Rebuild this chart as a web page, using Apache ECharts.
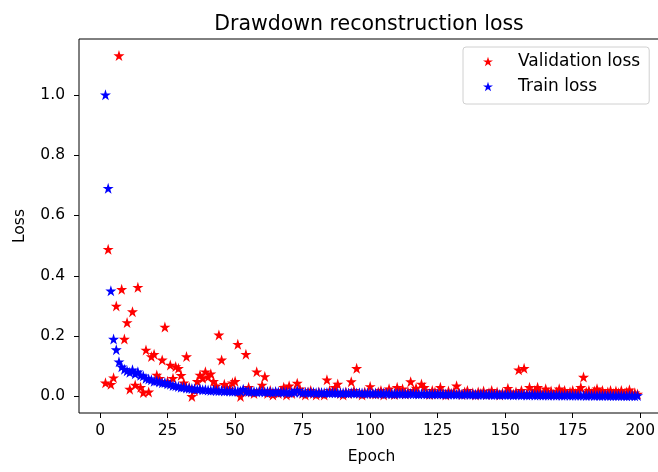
<!DOCTYPE html>
<html>
<head>
<meta charset="utf-8">
<script src="https://cdn.jsdelivr.net/npm/echarts@6/dist/echarts.min.js"></script>
<style>
  html, body { margin: 0; padding: 0; background: #fff; }
  #chart { width: 658px; height: 472px; }
</style>
</head>
<body>
<div id="chart"></div>
<script>
// epochs 2..199
const epochs = []
for (let e = 2; e <= 199; e++) epochs.push(e)

const validationLoss = [
  0.045, 0.488, 0.04, 0.062, 0.30, 1.13, 0.355, 0.19, 0.245, 0.024,
  0.281, 0.038, 0.362, 0.03, 0.013, 0.154, 0.015, 0.132, 0.14, 0.071,
  0.06, 0.121, 0.23, 0.05, 0.104, 0.06, 0.099, 0.093, 0.07, 0.045,
  0.132, 0.03, 0.0, 0.02, 0.05, 0.071, 0.06, 0.082, 0.065, 0.075,
  0.05, 0.035, 0.204, 0.121, 0.04, 0.03, 0.025, 0.045, 0.05, 0.173,
  0.0, 0.02, 0.14, 0.03, 0.015, 0.01, 0.082, 0.02, 0.038, 0.066,
  0.01, 0.02, 0.005, 0.015, 0.01, 0.02, 0.03, 0.005, 0.035, 0.01,
  0.02, 0.044, 0.025, 0.01, 0.005, 0.015, 0.02, 0.01, 0.005, 0.015,
  0.01, 0.005, 0.055, 0.02, 0.015, 0.03, 0.041, 0.01, 0.005, 0.015,
  0.01, 0.049, 0.02, 0.093, 0.01, 0.005, 0.015, 0.01, 0.033, 0.01,
  0.008, 0.015, 0.02, 0.005, 0.012, 0.025, 0.01, 0.006, 0.03, 0.012,
  0.025, 0.008, 0.015, 0.049, 0.02, 0.028, 0.01, 0.041, 0.03, 0.012,
  0.006, 0.02, 0.015, 0.008, 0.03, 0.012, 0.005, 0.018, 0.01, 0.015,
  0.035, 0.01, 0.006, 0.015, 0.02, 0.008, 0.012, 0.005, 0.015, 0.01,
  0.018, 0.006, 0.012, 0.02, 0.008, 0.015, 0.005, 0.012, 0.01, 0.027,
  0.012, 0.008, 0.015, 0.088, 0.02, 0.093, 0.01, 0.03, 0.012, 0.02,
  0.03, 0.015, 0.008, 0.025, 0.012, 0.018, 0.006, 0.015, 0.025, 0.01,
  0.02, 0.008, 0.015, 0.02, 0.01, 0.018, 0.03, 0.064, 0.015, 0.02,
  0.01, 0.018, 0.025, 0.012, 0.02, 0.008, 0.015, 0.02, 0.01, 0.018,
  0.012, 0.02, 0.008, 0.015, 0.022, 0.01, 0.012, 0.008
]

const trainLoss = [
  1.0, 0.69, 0.35, 0.19, 0.155, 0.115, 0.098, 0.09, 0.085, 0.08,
  0.088, 0.075, 0.082, 0.07, 0.068, 0.06, 0.058, 0.055, 0.05, 0.052,
  0.048, 0.045, 0.046, 0.042, 0.04, 0.036, 0.035, 0.033, 0.03, 0.031,
  0.028, 0.027, 0.026, 0.025, 0.024, 0.025, 0.022, 0.023, 0.021, 0.02,
  0.021, 0.02, 0.019, 0.02, 0.018, 0.019, 0.018, 0.017, 0.018, 0.017,
  0.018, 0.024, 0.017, 0.016, 0.017, 0.016, 0.015, 0.016, 0.017, 0.015,
  0.016, 0.015, 0.014, 0.016, 0.015, 0.014, 0.015, 0.014, 0.013, 0.015,
  0.014, 0.02, 0.014, 0.013, 0.014, 0.013, 0.013, 0.014, 0.012, 0.013,
  0.013, 0.012, 0.013, 0.012, 0.013, 0.012, 0.012, 0.011, 0.012, 0.012,
  0.011, 0.012, 0.011, 0.011, 0.012, 0.011, 0.01, 0.011, 0.011, 0.01,
  0.011, 0.01, 0.01, 0.011, 0.01, 0.01, 0.009, 0.01, 0.01, 0.009,
  0.01, 0.009, 0.009, 0.01, 0.009, 0.009, 0.008, 0.009, 0.009, 0.008,
  0.009, 0.008, 0.008, 0.009, 0.008, 0.008, 0.008, 0.007, 0.008, 0.008,
  0.007, 0.008, 0.007, 0.007, 0.008, 0.007, 0.007, 0.007, 0.006, 0.007,
  0.007, 0.006, 0.007, 0.006, 0.006, 0.007, 0.006, 0.006, 0.006, 0.006,
  0.006, 0.005, 0.006, 0.006, 0.005, 0.006, 0.005, 0.005, 0.006, 0.005,
  0.005, 0.005, 0.005, 0.005, 0.004, 0.005, 0.005, 0.004, 0.005, 0.004,
  0.004, 0.005, 0.004, 0.004, 0.004, 0.004, 0.004, 0.004, 0.003, 0.004,
  0.004, 0.003, 0.004, 0.003, 0.003, 0.004, 0.003, 0.003, 0.003, 0.003,
  0.003, 0.003, 0.003, 0.002, 0.003, 0.003, 0.002, 0.003
]

const xTicks = [0, 25, 50, 75, 100, 125, 150, 175, 200]
const yTicks = [0, 0.2, 0.4, 0.6, 0.8, 1.0]

// matplotlib '*' marker
const star = 'path://M0,-10L2.245,-3.09L9.51,-3.09L3.633,1.18L5.878,8.09L0,3.82L-5.878,8.09L-3.633,1.18L-9.51,-3.09L-2.245,-3.09Z'
const font = 'DejaVu Sans'
const tickFont = 15.5

const chart = echarts.init(document.getElementById('chart'), null, { renderer: 'canvas' })

chart.setOption({
  animation: false,
  backgroundColor: '#fff',
  textStyle: { fontFamily: font },
  title: {
    text: 'Drawdown reconstruction loss',
    left: 364,
    top: 9,
    textAlign: 'center',
    textStyle: { fontFamily: font, fontSize: 20.5, fontWeight: 'normal', color: '#000' }
  },
  legend: {
    orient: 'vertical',
    left: 463,
    top: 47,
    padding: [5, 9, 8, 20],
    itemWidth: 10,
    itemHeight: 10,
    itemGap: 6,
    borderColor: '#d0d0d0',
    borderWidth: 1,
    borderRadius: 3,
    backgroundColor: 'rgba(255,255,255,0.8)',
    textStyle: { fontFamily: font, fontSize: 17, color: '#000', lineHeight: 19, padding: [0, 0, 0, 20] },
    data: ['Validation loss', 'Train loss']
  },
  grid: {
    left: 79,
    top: 39,
    width: 585,
    height: 374,
    outerBoundsMode: 'none',
    show: true,
    borderColor: '#000',
    borderWidth: 1,
    backgroundColor: 'transparent'
  },
  xAxis: {
    type: 'value',
    min: -7.8,
    max: 208.8,
    name: 'Epoch',
    nameLocation: 'middle',
    nameGap: 36,
    nameTextStyle: { fontFamily: font, fontSize: tickFont, color: '#000' },
    axisLine: { show: false, onZero: false },
    splitLine: { show: false },
    axisTick: { show: true, length: 5, lineStyle: { color: '#000' }, customValues: xTicks },
    axisLabel: { fontFamily: font, fontSize: tickFont, color: '#000', margin: 10, customValues: xTicks }
  },
  yAxis: {
    type: 'value',
    min: -0.055,
    max: 1.185,
    name: 'Loss',
    nameLocation: 'middle',
    nameGap: 51,
    nameTextStyle: { fontFamily: font, fontSize: tickFont, color: '#000' },
    axisLine: { show: false, onZero: false },
    splitLine: { show: false },
    axisTick: { show: true, length: 5, lineStyle: { color: '#000' }, customValues: yTicks },
    axisLabel: {
      fontFamily: font, fontSize: tickFont, color: '#000', margin: 14, customValues: yTicks,
      formatter: v => v.toFixed(1)
    }
  },
  series: [
    {
      name: 'Validation loss',
      type: 'scatter',
      symbol: star,
      symbolSize: [11, 11],
      itemStyle: { color: '#ff0000', opacity: 1 },
      data: epochs.map((e, i) => [e, validationLoss[i]])
    },
    {
      name: 'Train loss',
      type: 'scatter',
      symbol: star,
      symbolSize: [11, 11],
      itemStyle: { color: '#0000ff', opacity: 1 },
      data: epochs.map((e, i) => [e, trainLoss[i]])
    }
  ]
})
</script>
</body>
</html>
